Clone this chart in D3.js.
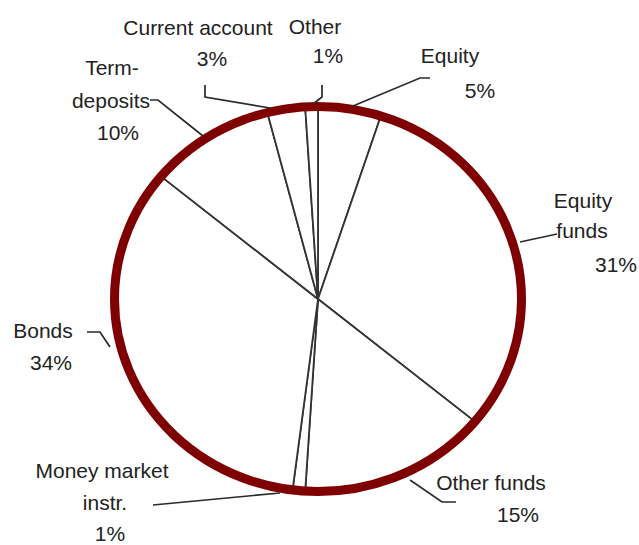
<!DOCTYPE html>
<html>
<head>
<meta charset="utf-8">
<script src="https://cdnjs.cloudflare.com/ajax/libs/d3/7.8.5/d3.min.js"></script>
<style>
  html, body { margin: 0; padding: 0; background: #fff; }
  svg { display: block; }
  text { font-family: "Liberation Sans", Arial, sans-serif; font-size: 21px; fill: #222; }
</style>
</head>
<body>
<svg id="chart" width="639" height="545"></svg>
<script>
// ---- data ----
const categories = ["Equity", "Equity funds", "Other funds", "Money market instr.", "Bonds", "Term-deposits", "Current account", "Other"];
const values = [5, 31, 15, 1, 34, 10, 3, 1];
const labelLines = [["Equity"], ["Equity", "funds"], ["Other funds"], ["Money market", "instr."], ["Bonds"], ["Term-", "deposits"], ["Current account"], ["Other"]];

// ---- layout (positions of label lines: [centerX, baselineY]) ----
const labelPos = [
  [[450, 63], [480, 98]],
  [[583, 208], [582, 238], [616, 272]],
  [[491, 490], [518, 522]],
  [[102, 478], [105, 510], [110, 541]],
  [[43, 338], [51, 370]],
  [[112, 75], [111, 108], [118, 140]],
  [[198, 35], [212, 66]],
  [[315, 34], [328, 63]]
];
const leaders = [
  [[430, 78], [420, 78], [353, 106]],
  [[520, 242], [557, 234]],
  [[410, 480], [442, 502], [456, 502]],
  [[153, 505], [280, 493]],
  [[87, 332], [100, 332], [110, 347]],
  [[150, 100], [158, 100], [203, 136]],
  [[205, 85], [205, 97], [270, 108]],
  [[322, 85], [322, 97], [313, 104]]
];

const cx = 318, cy = 299, rx = 203.5, ry = 192.5;
const svg = d3.select("#chart");

const data = categories.map((c, i) => ({ name: c, value: values[i], i }));
const pie = d3.pie().value(d => d.value).sort(null).startAngle(0).endAngle(2 * Math.PI);
const arcs = pie(data);
const arc = d3.arc().innerRadius(0).outerRadius(1);

const g = svg.append("g").attr("transform", `translate(${cx},${cy}) scale(${rx},${ry})`);
g.selectAll("path.slice").data(arcs).join("path")
  .attr("class", "slice")
  .attr("d", arc)
  .attr("fill", "#fff")
  .attr("stroke", "#333")
  .attr("stroke-width", 1.8)
  .attr("vector-effect", "non-scaling-stroke");

// ring
svg.append("ellipse")
  .attr("cx", cx).attr("cy", cy).attr("rx", rx).attr("ry", ry)
  .attr("fill", "none").attr("stroke", "#7f0000").attr("stroke-width", 9);

// leader lines
const line = d3.line();
svg.selectAll("path.leader").data(leaders).join("path")
  .attr("class", "leader")
  .attr("d", d => line(d))
  .attr("fill", "none")
  .attr("stroke", "#2a2a2a")
  .attr("stroke-width", 1.7);

// labels
data.forEach((d, i) => {
  const lines = labelLines[i].concat([`${d.value}%`]);
  lines.forEach((t, j) => {
    const p = labelPos[i][j];
    svg.append("text")
      .attr("x", p[0]).attr("y", p[1])
      .attr("text-anchor", "middle")
      .text(t);
  });
});
</script>
</body>
</html>
